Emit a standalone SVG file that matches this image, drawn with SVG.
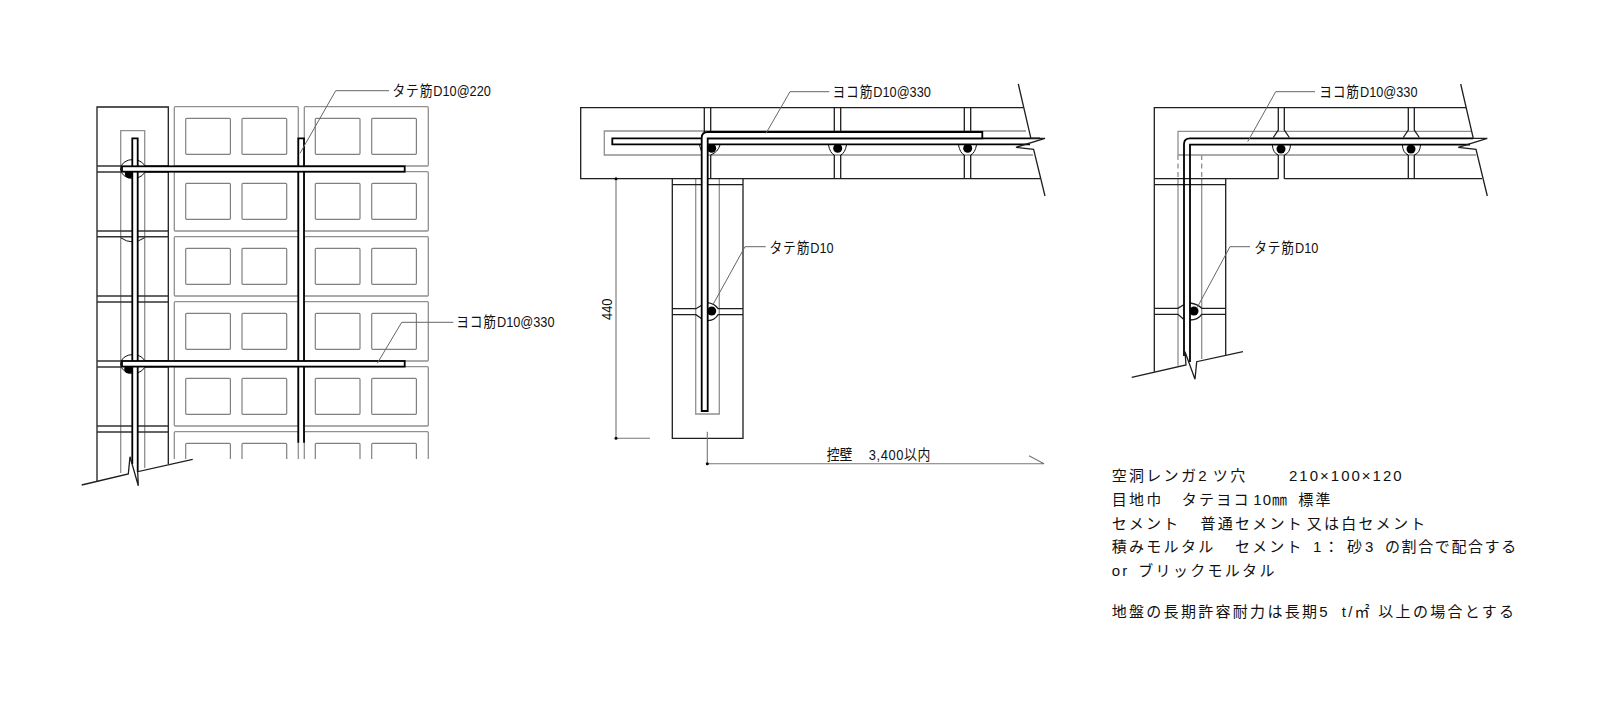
<svg xmlns="http://www.w3.org/2000/svg" width="1600" height="720" viewBox="0 0 1600 720">
<style>
.k{fill:none;stroke:#1e1e1e;stroke-width:1.3}
.j{fill:none;stroke:#333;stroke-width:1.6}
.g{fill:none;stroke:#909090;stroke-width:1.3}
.h{fill:none;stroke:#808080;stroke-width:1.2}
.a{fill:none;stroke:#111;stroke-width:1}
.w{fill:#fff;stroke:#111;stroke-width:1}
.r{fill:#fff;stroke:#000;stroke-width:1.8}
.rl{fill:none;stroke:#000;stroke-width:1.8}
.d{fill:#000}
.l{fill:none;stroke:#666;stroke-width:1}
.dm{fill:none;stroke:#777;stroke-width:1.1}
text{font-family:"Liberation Sans","Noto Sans CJK JP",sans-serif;font-size:15px;fill:#111}
.n{letter-spacing:2.3px}
.ka{letter-spacing:1px}
</style>
<defs>
<rect id="hole" width="44.7" height="36" rx="1" class="h"/>
<g id="row">
<rect x="174.3" width="124" height="59.3" rx="1" class="g"/>
<rect x="304.3" width="124" height="59.3" rx="1" class="g"/>
<use href="#hole" x="185.7" y="11.6"/><use href="#hole" x="242" y="11.6"/><use href="#hole" x="315.3" y="11.6"/><use href="#hole" x="371.7" y="11.6"/>
</g>
</defs>

<g id="elevation">
<use href="#row" y="106.7"/><use href="#row" y="171.7"/><use href="#row" y="236.7"/><use href="#row" y="301.7"/><use href="#row" y="366.7"/>
<path class="g" d="M174.3 459V432.7q0-1 1-1H297.3q1 0 1 1V459M304.3 459V432.7q0-1 1-1H427.3q1 0 1 1V459"/>
<path class="h" d="M185.7 459V444.3q0-1 1-1h42.7q1 0 1 1V459M242 459V444.3q0-1 1-1h42.7q1 0 1 1V459M315.3 459V444.3q0-1 1-1h42.7q1 0 1 1V459M371.7 459V444.3q0-1 1-1h42.7q1 0 1 1V459"/>
<path class="g" d="M120.7 473V130.7H144.7V468"/>
<path class="k" d="M97 481V107H168.3V464"/>
<path class="j" d="M97 166H168.3M97 172H168.3M97 231H168.3M97 236.7H168.3M97 296H168.3M97 302H168.3M97 361H168.3M97 367H168.3M97 426H168.3M97 432H168.3"/>
<ellipse class="w" cx="133" cy="169" rx="12.5" ry="9.5"/>
<ellipse class="w" cx="133" cy="364" rx="12.5" ry="9.5"/>
<path class="a" d="M120.7 237.7Q132 246 144.7 237.7"/>
<circle class="d" cx="129.3" cy="173.7" r="4.5"/>
<circle class="d" cx="128.7" cy="369" r="4.5"/>
<path class="r" d="M132.3 464V138.3H137.7V472"/>
<path class="r" d="M298.3 442.7V138.3H304V442.7"/>
<rect class="r" x="122" y="166.3" width="282.7" height="5.4"/>
<rect class="r" x="122" y="361" width="282.7" height="5.6"/>
<path class="k" d="M81.7 485L128.3 474L130 456.7L138.3 485.7L137.7 471.7L192.7 459.3"/>
</g>

<g id="corner-wall">
<path class="g" d="M695.7 178.7V414H719.3V178.7"/>
<path class="k" d="M672.3 178.7V438.3H743V178.7M672.3 184.7H743"/>
<path class="g" d="M1026 131H604.3V155H1033"/>
<path class="k" d="M1023 107.7H580.7V178.7H1040"/>
<path class="k" d="M704.3 107.7V132M710.7 107.7V132M834.3 107.7V132M840.7 107.7V132M964.3 107.7V132M970.7 107.7V132"/>
<path class="k" d="M710.7 155V178.7M834.3 155V178.7M840.7 155V178.7M964.3 155V178.7M970.7 155V178.7"/>
<path class="a" d="M699.5 145Q701 153 704.3 155M710.7 155Q718 152 720 145M828.5 145Q830 153 834.3 155M840.7 155Q845 153 846.5 145M958.5 145Q960 153 964.3 155M970.7 155Q975 153 976.5 145"/>
<circle class="d" cx="711.7" cy="148.3" r="4.5"/><circle class="d" cx="837.7" cy="148.3" r="4.5"/><circle class="d" cx="967.7" cy="148.3" r="4.5"/>
<path class="k" d="M672.3 308.7H696L702 305M672.3 314.7H696L702 319M708 302.7Q715 304 718 308.7H743M708 320.7Q715 320 718 314.7H743"/>
<circle class="d" cx="711.7" cy="311" r="4.5"/>
<path fill="#fff" stroke="none" d="M612.3 138.3H1040V144.3H612.3Z"/>
<path class="rl" d="M702.3 138.3H612.3V144.3H702.3M707.3 138.3H1040M707.3 144.3H1030"/>
<path class="r" d="M701.7 411V138Q701.7 132 707.7 132H982.3V138.3H707.7V411Z"/>
<path class="k" d="M1018.3 84L1030.9 138.3H1045L1016 147.3L1033.6 149.3L1045 196"/>
</g>

<g id="dimensions">
<path class="dm" d="M616 178.7V438.3H650M707.3 431.7V463.7H1044L1029 455.7"/>
<circle class="d" cx="616" cy="178.7" r="1.5"/><circle class="d" cx="616" cy="438.3" r="1.5"/><circle class="d" cx="707.3" cy="463.7" r="1.5"/>
<text transform="translate(611.5 320) rotate(-90) scale(.86 1)">440</text>
<text transform="translate(826.7 460) scale(.86 1)">控壁<tspan dx="19" letter-spacing=".7">3,400以内</tspan></text>
</g>

<g id="corner-section">
<path class="g" d="M1471.7 131.3H1178V155H1476"/>
<path class="g" d="M1178 155V178.7M1201.7 155V178.7" stroke-dasharray="5 3.5"/>
<path class="g" d="M1178 178.7V365.7M1201.7 178.7V359"/>
<path class="k" d="M1466 107.7H1154.3V371.7M1225.7 355V178.7H1278.3M1284.3 178.7H1482M1154.3 178.7H1225.7M1154.3 184.7H1225.7"/>
<path class="k" d="M1278.3 107.7V130L1273.3 137.5M1284.3 107.7V130L1289.3 137.5M1408.3 107.7V130L1403.3 137.5M1414.3 107.7V130L1419.3 137.5"/>
<path class="a" d="M1272.3 145Q1273 153 1278.3 155M1284.3 155Q1290 153 1290.5 145M1402.3 145Q1403 153 1408.3 155M1414.3 155Q1420 153 1420.5 145"/>
<path class="k" d="M1278.3 155V178.7M1284.3 155V178.7M1408.3 155V178.7M1414.3 155V178.7"/>
<circle class="d" cx="1281" cy="149" r="4.5"/><circle class="d" cx="1411" cy="149" r="4.5"/>
<path class="k" d="M1154.3 308.3H1178L1183.3 305M1154.3 314.3H1178L1183.3 319M1190 303Q1198 304 1201.7 308.3H1225.7M1190 320Q1198 320 1201.7 314.3H1225.7"/>
<circle class="d" cx="1194" cy="311" r="4.5"/>
<path class="rl" d="M1184 356V144Q1184 138.3 1190 138.3H1473M1190 362V144.7H1470"/>
<path class="k" d="M1460.7 84L1473.3 138.3H1487.3L1458.3 147.3L1476 149.3L1487.3 196"/>
<path class="k" d="M1131.7 377.3L1186 365L1185 351.7L1195 379.3L1196.7 361.7L1243 351.7"/>
</g>

<g id="leaders">
<path class="l" d="M300 153.3L335.7 90.7H389"/>
<path class="l" d="M377.3 363.3L401.7 322.3H453.3"/>
<path class="l" d="M766 133.3L790 91.7H829.3"/>
<path class="l" d="M713.3 304L745 246.7H765.7"/>
<path class="l" d="M1247.7 141.7L1275.7 91.7H1315"/>
<path class="l" d="M1197.3 307.3L1230 246.7H1250"/>
</g>

<g id="labels">
<text transform="translate(392.5 95.7) scale(.85 1)"><tspan class="ka">タテ筋</tspan>D10@220</text>
<text transform="translate(456.2 326.7) scale(.85 1)"><tspan class="ka">ヨコ筋</tspan>D10@330</text>
<text transform="translate(832.5 97.3) scale(.85 1)"><tspan class="ka">ヨコ筋</tspan>D10@330</text>
<text transform="translate(769.5 253.3) scale(.85 1)"><tspan class="ka">タテ筋</tspan>D10</text>
<text transform="translate(1319.2 97.3) scale(.85 1)"><tspan class="ka">ヨコ筋</tspan>D10@330</text>
<text transform="translate(1254.2 253.3) scale(.85 1)"><tspan class="ka">タテ筋</tspan>D10</text>
</g>

<g id="notes">
<text class="n" y="481"><tspan x="1111.7">空洞レンガ2<tspan dx="4">ツ</tspan>穴</tspan> <tspan x="1289" letter-spacing="2">210×100×120</tspan></text>
<text class="n" y="505"><tspan x="1111.7">目地巾</tspan> <tspan x="1181.7">タテヨコ</tspan> <tspan x="1253.3" letter-spacing="1">10㎜</tspan> <tspan x="1298.3">標準</tspan></text>
<text class="n" y="529"><tspan x="1111.7">セメント</tspan> <tspan x="1200.5">普通セメント</tspan> <tspan x="1306.7">又は白セメント</tspan></text>
<text class="n" y="552.4"><tspan x="1111.7">積みモルタル</tspan> <tspan x="1235">セメント</tspan> <tspan x="1313">1：</tspan> <tspan x="1347" letter-spacing="3">砂3</tspan> <tspan x="1385" letter-spacing="1.6">の割合で配合する</tspan></text>
<text class="n" y="576"><tspan x="1111.7">or</tspan> <tspan x="1138.3">ブリックモルタル</tspan></text>
<text class="n" y="616.7"><tspan x="1111.7">地盤の長期許容耐力は長期5</tspan> <tspan x="1341.7">t/㎡</tspan><tspan x="1378.3">以上の場合とする</tspan></text>
</g>
</svg>
